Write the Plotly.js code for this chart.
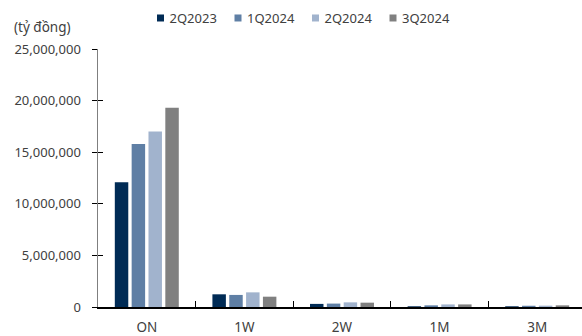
<!DOCTYPE html>
<html><head><meta charset="utf-8">
<script src="https://cdn.plot.ly/plotly-3.0.1.min.js"></script>
<style>html,body{margin:0;padding:0;overflow:hidden;background:#fff}#c{width:588px;height:336px}</style>
</head><body><div id="c"></div>
<script>
const categories = ["ON", "1W", "2W", "1M", "3M"];
const seriesNames = ["2Q2023", "1Q2024", "2Q2024", "3Q2024"];
const s2Q2023 = [12100000, 1230000, 300000, 70000, 70000];
const s1Q2024 = [15800000, 1170000, 330000, 160000, 120000];
const s2Q2024 = [17000000, 1420000, 450000, 250000, 130000];
const s3Q2024 = [19300000, 1000000, 420000, 250000, 160000];
const yTicks = [0, 5000000, 10000000, 15000000, 20000000, 25000000];
const yTickLabels = ["0", "5,000,000", "10,000,000", "15,000,000", "20,000,000", "25,000,000"];
const colors = ["#002b55", "#5f7fa5", "#a1b3cd", "#808080"];
const allSeries = [s2Q2023, s1Q2024, s2Q2024, s3Q2024];

const FONT = "Noto Sans, sans-serif";
const traces = allSeries.map((vals, i) => ({
  type: "bar", name: seriesNames[i], x: categories, y: vals,
  marker: {color: colors[i], line: {width: 0}}, hoverinfo: "skip"
}));
traces.push({type: "scatter", x: [categories[0]], y: [0], yaxis: "y2", mode: "markers",
  marker: {opacity: 0}, showlegend: false, hoverinfo: "skip"});

const layout = {
  width: 588, height: 336,
  margin: {l: 98, r: 2, t: 49, b: 29},
  paper_bgcolor: "#fff", plot_bgcolor: "#fff",
  font: {family: FONT, size: 13, color: "#404040"},
  barmode: "group", bargap: 0.31, bargroupgap: 0.2,
  showlegend: true,
  legend: {orientation: "h", x: 0.08, xanchor: "left", y: 1.12, yanchor: "middle",
    font: {family: FONT, size: 13, color: "#404040"}, traceorder: "normal",
    itemwidth: 30, tracegroupgap: 0, bgcolor: "rgba(0,0,0,0)"},
  xaxis: {type: "category", showgrid: false, zeroline: false,
    showline: true, linecolor: "#000", linewidth: 1.5,
    ticks: "inside", tickson: "boundaries", ticklen: 6, tickcolor: "#000", tickwidth: 1,
    tickfont: {family: FONT, size: 13.5, color: "#404040"}, ticklabelstandoff: 7},
  yaxis: {range: [0, 25000000], tickvals: yTicks, ticktext: yTickLabels,
    showgrid: false, zeroline: false, showline: true, linecolor: "#7f7f7f", linewidth: 1.5,
    ticks: "outside", ticklen: 5, tickcolor: "#000", tickwidth: 1,
    tickfont: {family: FONT, size: 13, color: "#404040"}, ticklabelstandoff: 8},
  yaxis2: {overlaying: "y", range: [0, 25000000], tickvals: yTicks, showticklabels: false,
    showgrid: false, zeroline: false, showline: false,
    ticks: "inside", ticklen: 5, tickcolor: "#000", tickwidth: 1, side: "left"},
  annotations: [{text: "(tỷ đồng)", xref: "paper", yref: "paper", x: -0.177, y: 1.085,
    xanchor: "left", yanchor: "middle", showarrow: false,
    font: {family: FONT, size: 13.5, color: "#404040"}}]
};
Plotly.newPlot("c", traces, layout, {staticPlot: true, displayModeBar: false}).then(gd => {
  // compact legend entries: small square, short gap to text, fixed spacing
  const items = gd.querySelectorAll(".legend .traces");
  const step = 77.5, targetLeft = 157;
  items.forEach((g, i) => {
    const p = g.querySelector(".legendpoints path");
    if (p) p.setAttribute("d", "M3.5,3.5H-3.5V-3.5H3.5Z");
    const t = g.querySelector("text.legendtext");
    if (t) t.setAttribute("x", "29");
  });
  const first = items[0];
  const m = /translate\(([-\d.]+),\s*([-\d.]+)\)/.exec(first.getAttribute("transform") || "translate(0,0)");
  const y0 = m ? m[2] : 0;
  const firstPath = first.querySelector(".legendpoints path");
  const left0 = firstPath.getBoundingClientRect().left;
  const x0 = (m ? parseFloat(m[1]) : 0) + (targetLeft - left0);
  items.forEach((g, i) => {
    g.setAttribute("transform", "translate(" + (x0 + i * step) + "," + y0 + ")");
  });
  const clip = gd.querySelector(".legend").closest("svg").querySelectorAll("clipPath[id^='legend'] rect");
  clip.forEach(r => r.setAttribute("width", "500"));
});
</script></body></html>
